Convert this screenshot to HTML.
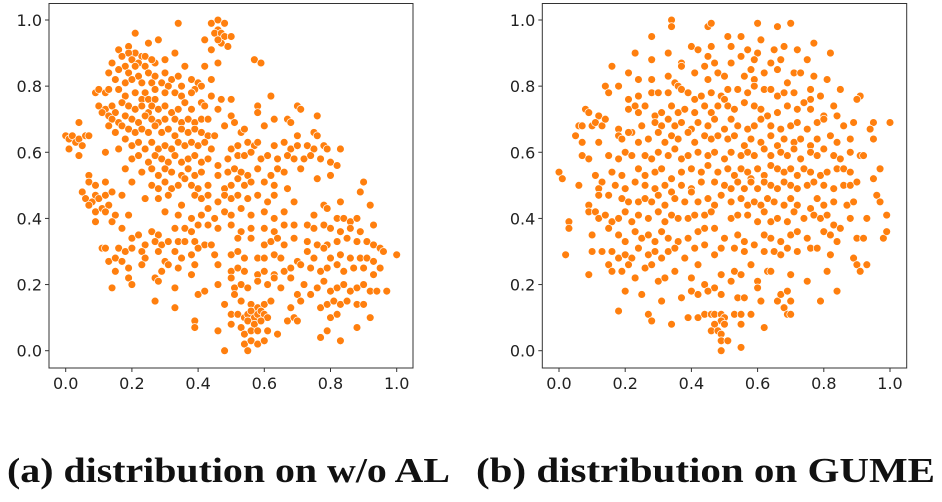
<!DOCTYPE html>
<html><head><meta charset="utf-8">
<style>
html,body{margin:0;padding:0;background:#fff;}
svg{display:block;}
.tick{font-family:"DejaVu Sans","Liberation Sans",sans-serif;font-size:16px;fill:#222;}
.cap{font-family:"Liberation Serif",serif;font-weight:bold;font-size:35px;fill:#111;}
</style></head>
<body>
<svg id="chart" width="942" height="502" viewBox="0 0 942 502" xmlns="http://www.w3.org/2000/svg">
<text class="cap" x="7" y="482" textLength="443" lengthAdjust="spacingAndGlyphs">(a) distribution on w/o AL</text>
<text class="cap" x="476" y="482" textLength="459" lengthAdjust="spacingAndGlyphs">(b) distribution on GUME</text>
</svg>
<script>
const tickValues = [0.0, 0.2, 0.4, 0.6, 0.8, 1.0];
const tickLabels = ["0.0","0.2","0.4","0.6","0.8","1.0"];
const pointsA = [
[0.44,0.99],[0.46,1.0],[0.48,0.99],[0.46,0.97],[0.45,0.96],[0.47,0.96],[0.48,0.95],[0.50,0.95],[0.47,0.93],[0.49,0.92],[0.44,0.91],[0.46,0.94],
[0.34,0.99],[0.21,0.96],[0.25,0.93],[0.28,0.94],[0.42,0.94],[0.46,0.87],[0.57,0.88],[0.59,0.87],[0.42,0.86],[0.36,0.86],[0.33,0.90],[0.30,0.88],[0.27,0.87],
[0.16,0.91],[0.19,0.92],[0.21,0.90],[0.19,0.90],[0.23,0.89],[0.17,0.89],[0.20,0.88],[0.22,0.87],[0.24,0.89],[0.26,0.88],[0.14,0.87],[0.18,0.86],[0.21,0.86],[0.24,0.86],[0.16,0.85],[0.13,0.84],[0.19,0.84],[0.22,0.83],[0.25,0.84],[0.27,0.83],[0.30,0.84],[0.32,0.82],[0.34,0.83],[0.15,0.82],[0.18,0.81],[0.20,0.82],[0.23,0.81],[0.26,0.81],[0.29,0.81],[0.31,0.80],[0.35,0.80],[0.38,0.82],[0.40,0.81],[0.41,0.80],[0.44,0.82],[0.39,0.79],
[0.09,0.78],[0.10,0.79],[0.12,0.78],[0.13,0.79],[0.16,0.79],[0.18,0.77],[0.21,0.78],[0.24,0.78],[0.27,0.79],[0.30,0.78],[0.33,0.78],[0.35,0.77],[0.38,0.78],[0.44,0.77],[0.47,0.76],[0.50,0.76],[0.62,0.77],[0.23,0.76],[0.25,0.76],[0.27,0.76],
[0.10,0.74],[0.12,0.73],[0.14,0.74],[0.15,0.72],[0.17,0.75],[0.19,0.74],[0.21,0.73],[0.23,0.74],[0.25,0.72],[0.26,0.74],[0.28,0.73],[0.30,0.74],[0.32,0.72],[0.34,0.73],[0.36,0.75],[0.38,0.73],[0.41,0.75],[0.42,0.74],[0.46,0.73],[0.58,0.74],[0.58,0.72],[0.70,0.74],[0.71,0.73],[0.76,0.71],
[0.11,0.72],[0.13,0.71],[0.14,0.70],[0.16,0.69],[0.18,0.71],[0.20,0.70],[0.22,0.69],[0.24,0.71],[0.26,0.70],[0.28,0.69],[0.30,0.70],[0.33,0.70],[0.35,0.69],[0.37,0.70],[0.39,0.69],[0.41,0.70],[0.43,0.70],[0.50,0.71],[0.51,0.69],[0.63,0.70],[0.67,0.70],[0.68,0.69],[0.60,0.68],
[0.13,0.68],[0.15,0.66],[0.17,0.68],[0.19,0.67],[0.21,0.66],[0.23,0.67],[0.25,0.66],[0.27,0.68],[0.29,0.66],[0.31,0.67],[0.33,0.65],[0.35,0.67],[0.37,0.66],[0.39,0.67],[0.41,0.66],[0.43,0.65],[0.45,0.65],[0.48,0.68],[0.53,0.66],[0.54,0.67],[0.55,0.63],[0.75,0.66],[0.76,0.65],[0.70,0.65],
[0.00,0.65],[0.01,0.64],[0.02,0.65],[0.03,0.63],[0.04,0.64],[0.05,0.62],[0.06,0.65],[0.07,0.65],[0.01,0.61],[0.04,0.59],[0.04,0.69],
[0.12,0.60],[0.16,0.61],[0.18,0.64],[0.20,0.62],[0.22,0.63],[0.24,0.61],[0.26,0.63],[0.28,0.61],[0.30,0.62],[0.32,0.61],[0.34,0.63],[0.36,0.62],[0.38,0.63],[0.40,0.62],[0.42,0.63],[0.44,0.61],[0.50,0.61],[0.52,0.62],[0.57,0.62],[0.58,0.63],[0.63,0.62],[0.66,0.63],[0.68,0.61],[0.70,0.62],[0.73,0.62],[0.75,0.61],[0.78,0.62],[0.79,0.61],[0.83,0.61],
[0.20,0.58],[0.22,0.59],[0.25,0.57],[0.27,0.59],[0.29,0.58],[0.31,0.57],[0.33,0.59],[0.35,0.57],[0.37,0.58],[0.39,0.59],[0.41,0.57],[0.43,0.58],[0.46,0.56],[0.49,0.58],[0.52,0.59],[0.54,0.59],[0.56,0.60],[0.59,0.58],[0.61,0.59],[0.64,0.58],[0.67,0.59],[0.69,0.58],[0.72,0.58],[0.74,0.59],[0.77,0.58],[0.80,0.57],[0.82,0.56],
[0.18,0.55],[0.23,0.54],[0.26,0.55],[0.28,0.53],[0.30,0.55],[0.32,0.54],[0.35,0.53],[0.37,0.55],[0.39,0.53],[0.41,0.54],[0.46,0.53],[0.49,0.54],[0.51,0.55],[0.53,0.54],[0.55,0.53],[0.58,0.55],[0.62,0.53],[0.64,0.55],[0.66,0.54],[0.71,0.55],[0.76,0.52],[0.80,0.53],
[0.07,0.53],[0.07,0.51],[0.09,0.50],[0.12,0.51],[0.20,0.51],[0.26,0.50],[0.28,0.49],[0.30,0.51],[0.32,0.49],[0.34,0.50],[0.36,0.52],[0.38,0.50],[0.40,0.49],[0.43,0.50],[0.48,0.49],[0.50,0.50],[0.52,0.52],[0.54,0.50],[0.56,0.51],[0.60,0.51],[0.63,0.50],[0.67,0.49],[0.90,0.51],[0.89,0.48],
[0.05,0.48],[0.06,0.46],[0.08,0.45],[0.09,0.47],[0.10,0.46],[0.12,0.47],[0.14,0.48],[0.17,0.47],[0.24,0.46],[0.28,0.46],[0.31,0.47],[0.35,0.44],[0.39,0.47],[0.41,0.46],[0.43,0.47],[0.46,0.45],[0.48,0.47],[0.50,0.46],[0.52,0.47],[0.55,0.46],[0.58,0.47],[0.61,0.45],[0.63,0.47],[0.69,0.45],[0.78,0.44],[0.79,0.43],[0.83,0.45],[0.92,0.44],
[0.07,0.44],[0.09,0.42],[0.11,0.43],[0.13,0.44],[0.12,0.42],[0.15,0.41],[0.19,0.41],[0.30,0.42],[0.34,0.41],[0.38,0.40],[0.41,0.41],[0.43,0.43],[0.45,0.40],[0.48,0.42],[0.50,0.41],[0.53,0.43],[0.56,0.41],[0.60,0.42],[0.63,0.40],[0.66,0.42],[0.75,0.41],[0.82,0.40],[0.84,0.40],[0.86,0.39],[0.88,0.40],
[0.09,0.39],[0.14,0.39],[0.17,0.37],[0.26,0.36],[0.28,0.35],[0.33,0.37],[0.36,0.37],[0.38,0.36],[0.40,0.38],[0.43,0.38],[0.46,0.37],[0.50,0.38],[0.53,0.36],[0.56,0.37],[0.60,0.37],[0.63,0.36],[0.66,0.38],[0.69,0.38],[0.73,0.38],[0.75,0.37],[0.78,0.38],[0.80,0.37],[0.83,0.36],[0.86,0.37],[0.89,0.36],[0.93,0.38],
[0.20,0.34],[0.22,0.35],[0.24,0.32],[0.27,0.33],[0.29,0.32],[0.31,0.33],[0.34,0.33],[0.36,0.33],[0.39,0.33],[0.42,0.32],[0.44,0.32],[0.52,0.34],[0.56,0.34],[0.60,0.32],[0.62,0.33],[0.64,0.34],[0.66,0.32],[0.69,0.34],[0.73,0.33],[0.76,0.32],[0.79,0.32],[0.82,0.33],[0.85,0.34],[0.88,0.33],[0.91,0.33],[0.93,0.32],[0.95,0.31],
[0.11,0.31],[0.12,0.31],[0.16,0.31],[0.18,0.30],[0.20,0.31],[0.23,0.30],[0.24,0.28],[0.28,0.30],[0.30,0.27],[0.33,0.30],[0.35,0.28],[0.38,0.29],[0.40,0.31],[0.45,0.29],[0.50,0.29],[0.52,0.30],[0.54,0.28],[0.58,0.28],[0.60,0.28],[0.63,0.29],[0.65,0.28],[0.70,0.27],[0.73,0.30],[0.75,0.28],[0.78,0.31],[0.80,0.28],[0.83,0.29],[0.86,0.28],[0.89,0.28],[0.91,0.28],[0.93,0.27],[0.96,0.30],[1.00,0.29],
[0.13,0.27],[0.15,0.28],[0.17,0.27],[0.19,0.25],[0.23,0.26],[0.29,0.24],[0.31,0.26],[0.34,0.25],[0.39,0.26],[0.46,0.26],[0.50,0.24],[0.52,0.25],[0.54,0.24],[0.58,0.23],[0.60,0.24],[0.63,0.23],[0.66,0.24],[0.68,0.25],[0.71,0.26],[0.74,0.25],[0.77,0.24],[0.79,0.25],[0.82,0.26],[0.84,0.24],[0.87,0.25],[0.90,0.25],[0.93,0.23],[0.95,0.25],
[0.15,0.24],[0.14,0.19],[0.19,0.22],[0.20,0.20],[0.27,0.22],[0.28,0.21],[0.33,0.19],[0.38,0.23],[0.40,0.17],[0.42,0.18],[0.46,0.20],[0.50,0.22],[0.51,0.19],[0.53,0.20],[0.55,0.19],[0.58,0.21],[0.61,0.20],[0.63,0.22],[0.65,0.19],[0.68,0.22],[0.70,0.17],[0.72,0.20],[0.74,0.17],[0.76,0.19],[0.78,0.21],[0.80,0.18],[0.82,0.19],[0.84,0.20],[0.86,0.18],[0.88,0.19],[0.90,0.20],[0.92,0.18],[0.94,0.18],[0.97,0.18],
[0.27,0.15],[0.33,0.13],[0.48,0.14],[0.51,0.17],[0.53,0.15],[0.56,0.14],[0.58,0.13],[0.60,0.14],[0.62,0.15],[0.68,0.13],[0.71,0.15],[0.77,0.13],[0.79,0.14],[0.81,0.15],[0.83,0.14],[0.85,0.15],[0.88,0.14],[0.90,0.14],
[0.39,0.09],[0.39,0.07],[0.50,0.11],[0.52,0.11],[0.54,0.10],[0.55,0.11],[0.56,0.12],[0.57,0.10],[0.58,0.11],[0.59,0.12],[0.60,0.11],[0.61,0.10],[0.55,0.09],[0.57,0.08],[0.59,0.09],[0.67,0.09],[0.69,0.10],[0.70,0.09],[0.80,0.10],[0.82,0.11],[0.88,0.07],[0.92,0.10],
[0.46,0.06],[0.50,0.08],[0.53,0.07],[0.54,0.05],[0.56,0.06],[0.58,0.06],[0.61,0.06],[0.64,0.05],[0.79,0.06],[0.77,0.04],[0.83,0.03],[0.54,0.02],[0.56,0.03],[0.58,0.02],[0.60,0.03],[0.55,0.00],[0.48,0.00]
];
const pointsB = [
[0.34,1.0],[0.34,0.98],[0.45,0.98],[0.46,0.99],[0.60,0.99],[0.66,0.98],[0.70,0.99],[0.28,0.95],[0.51,0.95],[0.55,0.95],[0.61,0.94],
[0.23,0.90],[0.33,0.90],[0.40,0.92],[0.42,0.91],[0.46,0.92],[0.52,0.92],[0.57,0.91],[0.60,0.90],[0.65,0.91],[0.68,0.92],[0.72,0.91],[0.77,0.93],[0.82,0.90],[0.28,0.88],[0.45,0.89],[0.47,0.87],[0.55,0.89],[0.59,0.88],[0.67,0.88],[0.75,0.88],[0.37,0.87],
[0.16,0.86],[0.21,0.84],[0.24,0.82],[0.28,0.82],[0.33,0.83],[0.37,0.86],[0.41,0.84],[0.44,0.86],[0.48,0.84],[0.50,0.83],[0.52,0.87],[0.56,0.83],[0.58,0.85],[0.62,0.84],[0.64,0.87],[0.66,0.85],[0.69,0.81],[0.71,0.84],[0.73,0.84],[0.77,0.83],[0.81,0.82],[0.45,0.82],[0.35,0.81],[0.59,0.82],
[0.14,0.80],[0.18,0.80],[0.15,0.78],[0.21,0.76],[0.24,0.77],[0.28,0.78],[0.30,0.78],[0.33,0.78],[0.36,0.80],[0.37,0.79],[0.39,0.78],[0.41,0.76],[0.43,0.77],[0.46,0.78],[0.49,0.77],[0.51,0.79],[0.54,0.79],[0.57,0.78],[0.59,0.80],[0.62,0.79],[0.64,0.79],[0.66,0.77],[0.68,0.78],[0.71,0.78],[0.76,0.79],[0.79,0.77],[0.85,0.79],[0.91,0.77],[0.90,0.76],[0.76,0.76],
[0.08,0.73],[0.09,0.72],[0.12,0.71],[0.21,0.73],[0.23,0.74],[0.24,0.72],[0.26,0.74],[0.29,0.71],[0.31,0.72],[0.34,0.74],[0.36,0.72],[0.38,0.73],[0.41,0.72],[0.44,0.74],[0.46,0.72],[0.48,0.74],[0.50,0.76],[0.51,0.74],[0.53,0.73],[0.56,0.75],[0.59,0.74],[0.61,0.73],[0.63,0.71],[0.66,0.72],[0.69,0.74],[0.72,0.73],[0.74,0.75],[0.76,0.73],[0.80,0.71],[0.83,0.74],[0.84,0.71],[0.95,0.69],[1.00,0.69],
[0.06,0.68],[0.07,0.68],[0.10,0.68],[0.11,0.69],[0.13,0.68],[0.14,0.70],[0.18,0.67],[0.22,0.66],[0.25,0.68],[0.29,0.69],[0.31,0.68],[0.33,0.70],[0.35,0.68],[0.37,0.69],[0.40,0.67],[0.42,0.69],[0.45,0.68],[0.47,0.70],[0.50,0.67],[0.52,0.70],[0.54,0.68],[0.57,0.67],[0.59,0.68],[0.61,0.70],[0.64,0.68],[0.67,0.67],[0.70,0.68],[0.72,0.69],[0.75,0.67],[0.78,0.69],[0.80,0.70],[0.86,0.68],[0.89,0.69],[0.94,0.67],
[0.05,0.65],[0.07,0.63],[0.12,0.63],[0.18,0.65],[0.19,0.64],[0.21,0.66],[0.24,0.63],[0.27,0.64],[0.30,0.66],[0.32,0.63],[0.34,0.65],[0.36,0.64],[0.39,0.66],[0.41,0.63],[0.44,0.65],[0.46,0.64],[0.48,0.65],[0.51,0.64],[0.53,0.65],[0.56,0.62],[0.58,0.64],[0.61,0.63],[0.64,0.65],[0.66,0.62],[0.68,0.64],[0.71,0.63],[0.73,0.64],[0.76,0.62],[0.78,0.64],[0.82,0.65],[0.84,0.63],[0.88,0.64],[0.95,0.64],
[0.07,0.59],[0.09,0.58],[0.15,0.59],[0.18,0.58],[0.20,0.60],[0.22,0.59],[0.26,0.59],[0.28,0.58],[0.30,0.60],[0.33,0.59],[0.35,0.61],[0.37,0.58],[0.39,0.59],[0.42,0.60],[0.45,0.59],[0.47,0.60],[0.50,0.58],[0.52,0.60],[0.55,0.59],[0.57,0.60],[0.59,0.59],[0.62,0.61],[0.64,0.59],[0.67,0.60],[0.69,0.59],[0.71,0.61],[0.73,0.58],[0.76,0.60],[0.78,0.59],[0.80,0.61],[0.83,0.59],[0.85,0.58],[0.88,0.60],[0.91,0.59],[0.92,0.59],
[0.00,0.54],[0.01,0.52],[0.11,0.53],[0.13,0.51],[0.16,0.54],[0.19,0.53],[0.24,0.55],[0.26,0.53],[0.29,0.54],[0.31,0.55],[0.34,0.52],[0.37,0.54],[0.40,0.55],[0.43,0.54],[0.45,0.56],[0.48,0.54],[0.51,0.55],[0.53,0.53],[0.55,0.55],[0.57,0.54],[0.58,0.52],[0.60,0.55],[0.62,0.53],[0.64,0.56],[0.66,0.55],[0.68,0.54],[0.70,0.55],[0.72,0.53],[0.74,0.55],[0.76,0.54],[0.79,0.53],[0.81,0.54],[0.84,0.55],[0.86,0.55],[0.88,0.54],[0.95,0.52],[0.97,0.55],
[0.06,0.50],[0.12,0.49],[0.17,0.50],[0.20,0.49],[0.23,0.51],[0.26,0.50],[0.29,0.49],[0.32,0.50],[0.34,0.48],[0.37,0.50],[0.40,0.49],[0.43,0.51],[0.47,0.51],[0.50,0.50],[0.52,0.49],[0.54,0.51],[0.56,0.49],[0.58,0.51],[0.60,0.49],[0.62,0.51],[0.64,0.50],[0.66,0.49],[0.68,0.51],[0.70,0.50],[0.72,0.49],[0.75,0.50],[0.77,0.51],[0.80,0.50],[0.83,0.49],[0.86,0.50],[0.88,0.50],[0.90,0.51],
[0.12,0.47],[0.15,0.47],[0.19,0.46],[0.21,0.45],[0.24,0.45],[0.26,0.46],[0.28,0.45],[0.30,0.47],[0.32,0.44],[0.35,0.46],[0.38,0.45],[0.40,0.48],[0.42,0.45],[0.45,0.46],[0.47,0.44],[0.49,0.47],[0.52,0.45],[0.55,0.46],[0.57,0.44],[0.59,0.45],[0.61,0.44],[0.63,0.46],[0.65,0.45],[0.68,0.44],[0.70,0.46],[0.72,0.44],[0.76,0.43],[0.78,0.46],[0.80,0.44],[0.83,0.45],[0.87,0.44],[0.89,0.45],[0.96,0.47],[0.97,0.45],
[0.03,0.39],[0.03,0.37],[0.09,0.44],[0.09,0.42],[0.11,0.42],[0.12,0.40],[0.14,0.41],[0.16,0.39],[0.18,0.40],[0.20,0.42],[0.22,0.39],[0.24,0.41],[0.27,0.40],[0.30,0.42],[0.32,0.39],[0.34,0.41],[0.36,0.40],[0.39,0.40],[0.41,0.41],[0.44,0.41],[0.46,0.42],[0.52,0.40],[0.54,0.41],[0.57,0.41],[0.60,0.39],[0.62,0.42],[0.64,0.39],[0.66,0.40],[0.69,0.39],[0.71,0.42],[0.74,0.40],[0.77,0.41],[0.79,0.40],[0.81,0.41],[0.83,0.38],[0.85,0.37],[0.88,0.40],[0.93,0.40],[0.99,0.41],
[0.10,0.35],[0.15,0.37],[0.18,0.35],[0.20,0.33],[0.23,0.36],[0.25,0.34],[0.27,0.35],[0.29,0.33],[0.31,0.36],[0.33,0.34],[0.36,0.33],[0.39,0.34],[0.42,0.36],[0.44,0.37],[0.47,0.37],[0.50,0.34],[0.54,0.35],[0.56,0.33],[0.59,0.32],[0.62,0.35],[0.64,0.34],[0.67,0.33],[0.70,0.35],[0.72,0.36],[0.75,0.34],[0.80,0.36],[0.82,0.35],[0.84,0.33],[0.90,0.34],[0.92,0.34],[0.98,0.34],[0.99,0.36],
[0.02,0.29],[0.10,0.30],[0.13,0.30],[0.16,0.30],[0.18,0.28],[0.20,0.29],[0.22,0.28],[0.24,0.31],[0.27,0.29],[0.29,0.30],[0.31,0.28],[0.33,0.30],[0.35,0.31],[0.38,0.28],[0.41,0.31],[0.44,0.32],[0.47,0.29],[0.49,0.31],[0.53,0.31],[0.56,0.30],[0.58,0.26],[0.62,0.30],[0.65,0.30],[0.67,0.29],[0.69,0.31],[0.72,0.30],[0.76,0.31],[0.78,0.31],[0.82,0.29],[0.89,0.28],[0.90,0.26],
[0.09,0.23],[0.15,0.26],[0.16,0.24],[0.19,0.24],[0.21,0.26],[0.23,0.22],[0.26,0.25],[0.28,0.26],[0.30,0.21],[0.32,0.22],[0.35,0.24],[0.38,0.28],[0.40,0.22],[0.42,0.26],[0.44,0.20],[0.47,0.19],[0.49,0.23],[0.52,0.21],[0.53,0.24],[0.55,0.23],[0.58,0.26],[0.60,0.21],[0.60,0.19],[0.63,0.24],[0.64,0.24],[0.70,0.23],[0.75,0.21],[0.81,0.24],[0.91,0.24],[0.93,0.26],
[0.20,0.18],[0.25,0.17],[0.31,0.15],[0.37,0.16],[0.40,0.18],[0.42,0.17],[0.45,0.18],[0.49,0.17],[0.54,0.16],[0.56,0.16],[0.61,0.15],[0.66,0.15],[0.67,0.17],[0.69,0.18],[0.70,0.15],[0.79,0.15],[0.84,0.18],[0.18,0.12],
[0.27,0.11],[0.28,0.09],[0.34,0.08],[0.39,0.10],[0.42,0.10],[0.44,0.11],[0.46,0.11],[0.47,0.11],[0.49,0.11],[0.50,0.10],[0.49,0.09],[0.47,0.08],[0.50,0.08],[0.53,0.11],[0.55,0.11],[0.58,0.11],[0.55,0.08],[0.68,0.13],[0.69,0.11],[0.70,0.11],[0.62,0.07],[0.46,0.06],[0.48,0.06],[0.49,0.05],[0.49,0.03],[0.49,0.00],[0.51,0.03],[0.55,0.01]
];

const NS = "http://www.w3.org/2000/svg";
const svg = document.getElementById('chart');
function mk(tag, attrs, parent){
  const e = document.createElementNS(NS, tag);
  for (const k in attrs) e.setAttribute(k, attrs[k]);
  (parent||svg).appendChild(e);
  return e;
}
function drawPanel(points, x0px, x1px, frameL, frameR, name){
  const y0px = 350.7, y1px = 20, frameT = 3.5, frameB = 368;
  const sx = v => x0px + v*(x1px - x0px);
  const sy = v => y0px + v*(y1px - y0px);
  const g = mk('g', {});
  
  
  const frame = mk('rect', {x:frameL, y:frameT, width:frameR-frameL, height:frameB-frameT, fill:'#fff', stroke:'#333', 'stroke-width':1}, g);
  
  
  tickValues.forEach((t,i) => {
    const xt = mk('line', {x1:sx(t), x2:sx(t), y1:frameB, y2:frameB+4, stroke:'#333'}, g);
    
    
    const xl = mk('text', {x:sx(t), y:frameB+21, 'text-anchor':'middle', class:'tick'}, g);
    xl.textContent = tickLabels[i];
    
    
    const yt = mk('line', {x1:frameL-4, x2:frameL, y1:sy(t), y2:sy(t), stroke:'#333'}, g);
    
    
    const yl = mk('text', {x:frameL-7, y:sy(t)+6, 'text-anchor':'end', class:'tick'}, g);
    yl.textContent = tickLabels[i];
    
    
  });
  points.forEach(p => {
    const c = mk('circle', {cx:sx(p[0]), cy:sy(p[1]), r:3.9, fill:'#ff7f0e', stroke:'#fff', 'stroke-width':0.7}, g);
    
    
  });
}
drawPanel(pointsA, 65.7, 396.7, 49, 413, 'scatter-panel-a');
drawPanel(pointsB, 559, 890, 542.3, 906.7, 'scatter-panel-b');
</script>
</body></html>
